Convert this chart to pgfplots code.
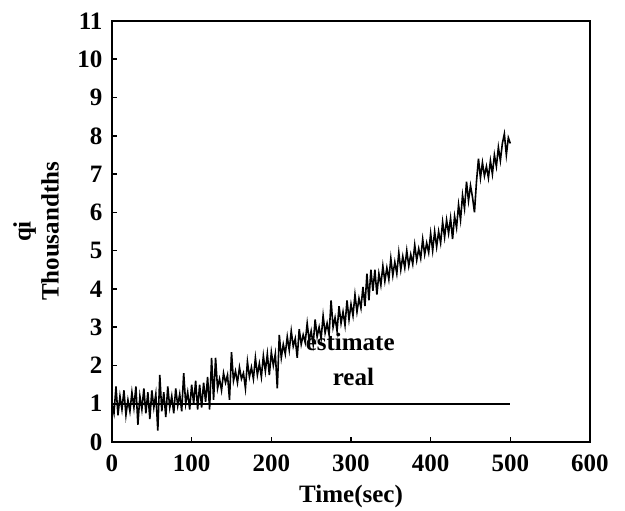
\documentclass[border=0pt]{standalone}
\usepackage{fontspec}
\setmainfont{Liberation Serif}
\usepackage{pgfplots}
\pgfplotsset{compat=1.18}

\pgfplotstableread{
t q
0 1.0
2.5 0.75
5 1.45
7.5 0.7
10 1.2
12.5 0.85
15 1.35
17.5 0.7
20 1.1
22.5 0.8
25 1.3
27.5 0.9
30 1.45
32.5 0.45
35 1.2
37.5 0.85
40 1.4
42.5 0.75
45 1.3
47.5 0.6
50 1.35
52.5 0.9
55 1.25
57.5 0.3
60 1.75
62.5 0.8
65 1.3
67.5 0.65
70 1.45
72.5 0.9
75 1.2
77.5 0.75
80 1.4
82.5 0.95
85 1.25
87.5 0.8
90 1.8
92.5 1.0
95 1.3
97.5 0.85
100 1.5
102.5 1.0
105 1.6
107.5 0.85
110 1.5
112.5 0.9
115 1.55
117.5 1.05
120 1.7
122.5 0.85
125 2.2
127.5 1.1
130 2.2
132.5 1.4
135 1.65
137.5 1.35
140 1.8
142.5 1.55
145 1.75
147.5 1.1
150 2.35
152.5 1.6
155 1.85
157.5 1.55
160 1.95
162.5 1.65
165 1.8
167.5 1.4
170 2.1
172.5 1.7
175 1.95
177.5 1.65
180 2.2
182.5 1.75
185 2.05
187.5 1.7
190 2.25
192.5 1.85
195 2.3
197.5 1.75
200 2.35
202.5 2.0
205 2.3
207.5 1.4
210 2.8
212.5 2.2
215 2.55
217.5 2.3
220 2.75
222.5 2.4
225 2.9
227.5 2.5
230 2.7
232.5 2.2
235 2.95
237.5 2.55
240 2.8
242.5 2.6
245 3.1
247.5 2.65
250 2.9
252.5 2.55
255 3.2
257.5 2.75
260 3.0
262.5 2.7
265 3.3
267.5 2.85
270 3.1
272.5 2.8
275 3.7
277.5 3.0
280 3.25
282.5 2.9
285 3.55
287.5 3.1
290 3.4
292.5 3.05
295 3.7
297.5 3.2
300 3.6
302.5 3.3
305 3.85
307.5 3.4
310 3.75
312.5 3.5
315 4.05
317.5 3.55
320 4.4
322.5 3.7
325 4.5
327.5 3.95
330 4.5
332.5 3.85
335 4.4
337.5 4.1
340 4.6
342.5 4.2
345 4.55
347.5 4.25
350 4.8
352.5 4.35
355 4.7
357.5 4.4
360 4.95
362.5 4.5
365 4.85
367.5 4.55
370 5.0
372.5 4.6
375 4.9
377.5 4.65
380 5.15
382.5 4.75
385 5.05
387.5 4.8
390 5.3
392.5 4.9
395 5.2
397.5 4.95
400 5.45
402.5 5.0
405 5.5
407.5 5.1
410 5.5
412.5 5.2
415 5.75
417.5 5.35
420 5.8
422.5 5.45
425 5.85
427.5 5.3
430 5.9
432.5 5.6
435 6.2
437.5 5.8
440 6.45
442.5 6.1
445 6.8
447.5 6.3
450 6.7
452.5 6.4
455 6.0
457.5 6.8
460 7.4
462.5 6.9
465 7.3
467.5 6.95
470 7.2
472.5 6.9
475 7.35
477.5 7.0
480 7.5
482.5 7.2
485 7.7
487.5 7.35
490 7.8
492.5 8.05
495 7.5
497.5 7.95
500 7.8
}\estimate

\begin{document}
\begin{tikzpicture}
\begin{axis}[
  at={(0,0)}, anchor=south west,
  scale only axis,
  width=478pt, height=421pt,
  xmin=0, xmax=600, ymin=0, ymax=11,
  xtick={0,100,...,600},
  ytick={0,1,...,11},
  tick align=inside,
  xtick pos=bottom, ytick pos=left,
  major tick length=5pt,
  axis line style={line width=2pt},
  every tick/.style={line width=1.6pt, black},
  font=\fontsize{25}{28}\selectfont\bfseries,
  /pgf/number format/assume math mode=true,
  ticklabel style={font=\fontsize{25}{28}\selectfont\bfseries},
  xticklabel style={yshift=-9pt},
  yticklabel style={xshift=-6pt},
  xlabel={Time(sec)},
  xlabel style={at={(axis description cs:0.5,0)}, anchor=base, yshift=-61pt},
  ylabel={qi\\Thousandths},
  ylabel style={at={(axis description cs:0,0.5)}, anchor=center,
    align=center, font=\fontsize{25}{28}\selectfont\bfseries, yshift=76pt},
]
\addplot[black, line width=1.6pt] table {\estimate};
\addplot[black, line width=1.7pt] coordinates {(0,1) (500,1)};
\node[anchor=base] at (axis cs:299,2.40) {estimate};
\node[anchor=base] at (axis cs:303,1.47) {real};
\end{axis}
\pgfresetboundingbox
\path (-112pt,-69pt) rectangle (513pt,442pt);
\end{tikzpicture}
\end{document}
